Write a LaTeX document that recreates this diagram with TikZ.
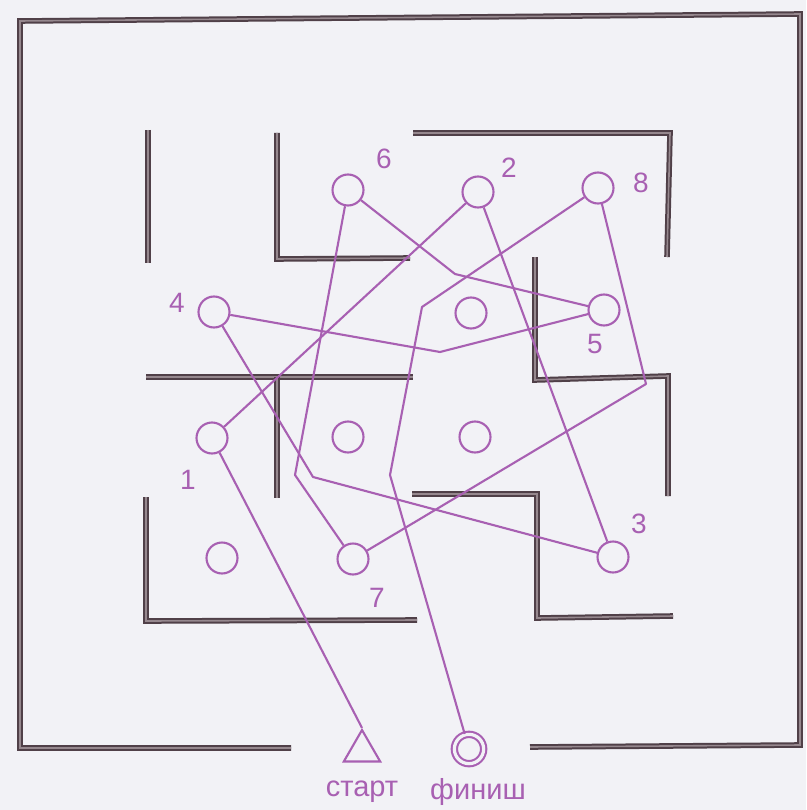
\documentclass[tikz,border=0pt]{standalone}
\usepackage{fontspec}
\setmainfont{Liberation Sans}
\usetikzlibrary{shapes.geometric}
\definecolor{lilac}{RGB}{168,96,178}
\definecolor{wallc}{RGB}{80,64,72}
\definecolor{wallin}{RGB}{150,136,142}
\definecolor{paper}{RGB}{242,242,246}

\begin{document}
\begin{tikzpicture}[
			x=1pt, y=-1pt,
			wall/.style={draw=wallc, double=wallin, double distance=1.6pt, line width=2pt},
			spot/.style={draw=lilac, circle, line width=2.1pt, minimum size=31pt, inner sep=0pt},
			num/.style={text=lilac, font=\fontsize{28}{31}\selectfont},
			word/.style={text=lilac, font=\fontsize{29}{32}\selectfont},
			route/.style={draw=lilac, line width=2.1pt, line join=round}
			]
			\fill[paper] (0,0) rectangle (806,810);
			\useasboundingbox (0,0) rectangle (806,810);
			
			% walls
			\draw[wall] (291,748) -- (20,748) -- (20,21) -- (800,14) -- (800,745) -- (530,747);
			\draw[wall] (148,130) -- (148,263);
			\draw[wall] (277,133) -- (277,259) -- (410,258);
			\draw[wall] (413,133) -- (670,133) -- (667,257);
			\draw[wall] (146,377) -- (413,377);
			\draw[wall] (277,377) -- (277,498);
			\draw[wall] (535,257) -- (535,380) -- (668,376) -- (668,496);
			\draw[wall] (412,494) -- (537,494) -- (537,618) -- (673,616);
			\draw[wall] (146,497) -- (146,621) -- (417,620);
			
			% rooms
			\node[spot] (n6) at (348,190) {};
			\node[spot] (n2) at (478,192) {};
			\node[spot] (n8) at (598,188) {};
			\node[spot] (n4) at (214,312) {};
			\node[spot] (e1) at (471,313) {};
			\node[spot] (n5) at (604,310) {};
			\node[spot] (n1) at (212,438) {};
			\node[spot] (e2) at (348,437) {};
			\node[spot] (e3) at (475,437) {};
			\node[spot] (e4) at (222,558) {};
			\node[spot] (n7) at (353,559) {};
			\node[spot] (n3) at (613,557) {};
			\node[draw=lilac, line width=2.1pt, regular polygon, regular polygon sides=3, minimum size=42pt, inner sep=0pt] (start) at (362,751) {};
			\node[draw=lilac, line width=2.1pt, double=paper, double distance=3.2pt, circle, minimum size=29.3pt, inner sep=0pt] (finish) at (469,749) {};
			
			% numbers
			\node[num] (l6) at (384,159) {6};
			\node[num] (l2) at (509,168) {2};
			\node[num] (l8) at (641,183) {8};
			\node[num] (l4) at (177,303) {4};
			\node[num] (l5) at (595,344) {5};
			\node[num] (l1) at (188,480) {1};
			\node[num] (l7) at (377,598) {7};
			\node[num] (l3) at (639,524) {3};
			\node[word] (lstart) at (362,792) {старт};
			\node[word] (lfinish) at (478,792) {финиш};
			
			% bends
			\coordinate (b34) at (313,477);
			\coordinate (b45) at (440,352);
			\coordinate (b56) at (455,274);
			\coordinate (b67) at (295,475);
			\coordinate (b78) at (646,384);
			\coordinate (b8a) at (422,307);
			\coordinate (b8b) at (390,475);
			
			\draw[route] (start.corner 1) -- (n1);
			\draw[route] (n1) -- (n2);
			\draw[route] (n2) -- (n3);
			\draw[route] (n3) -- (b34) -- (n4);
			\draw[route] (n4) -- (b45) -- (n5);
			\draw[route] (n5) -- (b56) -- (n6);
			\draw[route] (n6) -- (b67) -- (n7);
			\draw[route] (n7) -- (b78) -- (n8);
			\draw[route] (n8) -- (b8a) -- (b8b) -- (finish);
		\end{tikzpicture}
\end{document}
